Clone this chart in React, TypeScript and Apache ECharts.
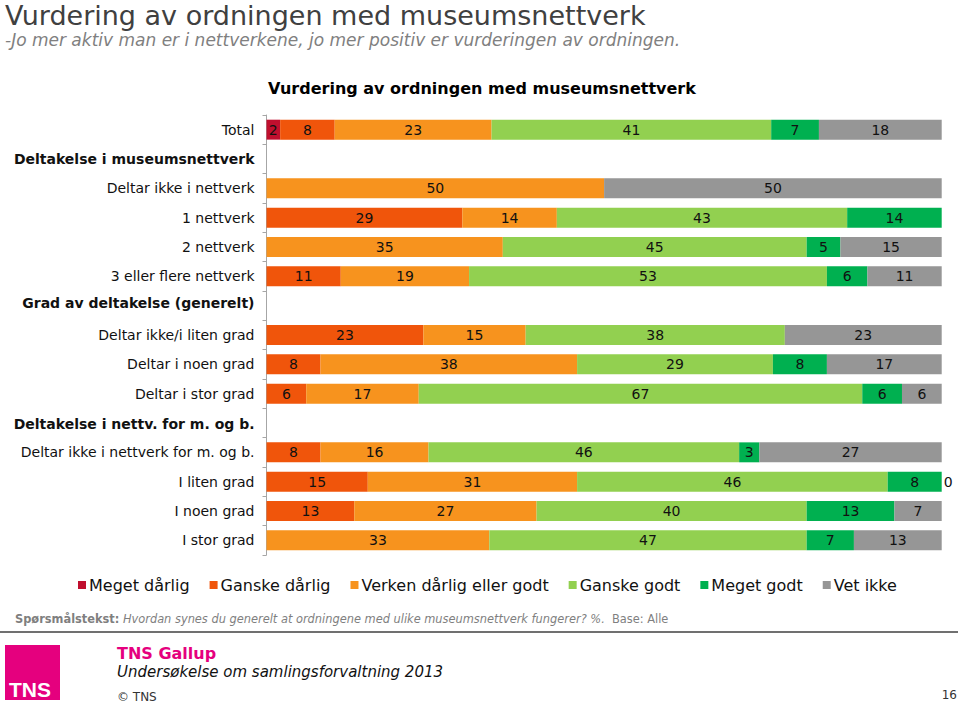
import React, { useEffect, useRef } from "react";
import * as echarts from "echarts";

const categories = [
  "Total",
  "Deltakelse i museumsnettverk",
  "Deltar ikke i nettverk",
  "1 nettverk",
  "2 nettverk",
  "3 eller flere nettverk",
  "Grad av deltakelse (generelt)",
  "Deltar ikke/i liten grad",
  "Deltar i noen grad",
  "Deltar i stor grad",
  "Deltakelse i nettv. for m. og b.",
  "Deltar ikke i nettverk for m. og b.",
  "I liten grad",
  "I noen grad",
  "I stor grad",
];
const headerShift: Record<string, string> = {
  "Deltakelse i museumsnettverk": "h",
  "Grad av deltakelse (generelt)": "hu",
  "Deltakelse i nettv. for m. og b.": "hd",
};

const seriesNames = [
  "Meget dårlig",
  "Ganske dårlig",
  "Verken dårlig eller godt",
  "Ganske godt",
  "Meget godt",
  "Vet ikke",
];
const colors = ["#C00F2E", "#F0550B", "#F7931E", "#92D050", "#00B050", "#969696"];

const megetDarlig = [2, null, null, null, null, null, null, null, null, null, null, null, null, null, null];
const ganskeDarlig = [8, null, null, 29, null, 11, null, 23, 8, 6, null, 8, 15, 13, null];
const verken = [23, null, 50, 14, 35, 19, null, 15, 38, 17, null, 16, 31, 27, 33];
const ganskeGodt = [41, null, null, 43, 45, 53, null, 38, 29, 67, null, 46, 46, 40, 47];
const megetGodt = [7, null, null, 14, 5, 6, null, null, 8, 6, null, 3, 8, 13, 7];
const vetIkke = [18, null, 50, null, 15, 11, null, 23, 17, 6, null, 27, 0, 7, 13];

const rawSeries: (number | null)[][] = [megetDarlig, ganskeDarlig, verken, ganskeGodt, megetGodt, vetIkke];

const FONT = "DejaVu Sans";

export default function App() {
  const ref = useRef<HTMLDivElement>(null);
  useEffect(() => {
    if (!ref.current) return;
    const chart = echarts.init(ref.current, null, { renderer: "svg" });
    const sums = categories.map((_, i) =>
      rawSeries.reduce((s, arr) => s + (arr[i] ?? 0), 0)
    );
    const series = rawSeries.map((arr, si) => ({
      name: seriesNames[si],
      type: "bar",
      stack: "all",
      barWidth: "68%",
      itemStyle: { color: colors[si] },
      label: {
        show: true,
        position: "inside",
        color: "#111",
        fontFamily: FONT,
        fontSize: 14,
        formatter: (p: any) => (p.data.raw === null ? "" : String(p.data.raw)),
      },
      data: arr.map((v, i) => {
        if (v === null) return { value: 0, raw: null, label: { show: false } };
        const share = sums[i] ? (v / sums[i]) * 100 : 0;
        if (v === 0)
          return { value: 0, raw: 0, label: { show: true, position: "right", distance: 2 } };
        return { value: share, raw: v };
      }),
    }));

    chart.setOption({
      animation: false,
      textStyle: { fontFamily: FONT },
      legend: {
        data: seriesNames,
        top: 572,
        left: 73,
        icon: "rect",
        itemWidth: 8,
        itemHeight: 8,
        itemGap: 20,
        textStyle: { fontFamily: FONT, fontSize: 16, color: "#111", padding: [0, 0, 0, -2] },
      },
      grid: { left: 266.5, right: 18.3, top: 115, bottom: 150 },
      xAxis: { type: "value", min: 0, max: 100, show: false },
      yAxis: {
        type: "category",
        data: categories,
        inverse: true,
        axisLine: { show: true, lineStyle: { color: "#A6A6A6" } },
        axisTick: { show: true, length: 4, lineStyle: { color: "#A6A6A6" } },
        axisLabel: {
          margin: 12,
          fontFamily: FONT,
          fontSize: 14,
          color: "#111",
          formatter: (v: string) => (headerShift[v] ? `{${headerShift[v]}|${v}}` : v),
          rich: {
            h: { fontWeight: "bold", fontFamily: FONT, fontSize: 14, color: "#111" },
            hu: { fontWeight: "bold", fontFamily: FONT, fontSize: 14, color: "#111", padding: [0, 0, 6, 0] },
            hd: { fontWeight: "bold", fontFamily: FONT, fontSize: 14, color: "#111", padding: [2, 0, 0, 0] },
          },
        },
      },
      series,
      graphic: [
        {
          type: "text",
          x: 5,
          y: 15.5,
          style: {
            text: "Vurdering av ordningen med museumsnettverk",
            fontFamily: FONT,
            fontSize: 27,
            fill: "#404040",
            verticalAlign: "middle",
          },
        },
        {
          type: "text",
          x: 5,
          y: 39.5,
          style: {
            text: "-Jo mer aktiv man er i nettverkene, jo mer positiv er vurderingen av ordningen.",
            fontFamily: FONT,
            fontSize: 17,
            fontStyle: "italic",
            fill: "#808080",
            verticalAlign: "middle",
          },
        },
        {
          type: "text",
          x: 482,
          y: 88,
          style: {
            text: "Vurdering av ordningen med museumsnettverk",
            fontFamily: FONT,
            fontSize: 16,
            fontWeight: "bold",
            fill: "#000",
            align: "center",
            verticalAlign: "middle",
          },
        },
        {
          type: "text",
          x: 15,
          y: 619,
          style: {
            text: "{b|Spørsmålstekst:} {i|Hvordan synes du generelt at ordningene med ulike museumsnettverk fungerer? %.}  {n|Base: Alle}",
            verticalAlign: "middle",
            rich: {
              b: { fontFamily: FONT, fontSize: 11.4, fontWeight: "bold", fill: "#7F7F7F" },
              i: { fontFamily: FONT, fontSize: 11.4, fontStyle: "italic", fill: "#7F7F7F" },
              n: { fontFamily: FONT, fontSize: 11.4, fill: "#7F7F7F" },
            },
            fontFamily: FONT,
            fontSize: 11.4,
            fill: "#7F7F7F",
          },
        },
        {
          type: "line",
          shape: { x1: 0, y1: 632, x2: 958, y2: 632 },
          style: { stroke: "#404040", lineWidth: 1.5 },
        },
        {
          type: "rect",
          shape: { x: 5, y: 645, width: 55, height: 55 },
          style: { fill: "#E5007E" },
        },
        {
          type: "text",
          x: 9,
          y: 689,
          style: {
            text: "TNS",
            fontFamily: "Liberation Sans Narrow, Liberation Sans",
            fontSize: 21,
            fontWeight: "bold",
            fill: "#fff",
            verticalAlign: "middle",
          },
        },
        {
          type: "text",
          x: 117,
          y: 653,
          style: {
            text: "TNS Gallup",
            fontFamily: FONT,
            fontSize: 16,
            fontWeight: "bold",
            fill: "#E5007E",
            verticalAlign: "middle",
          },
        },
        {
          type: "text",
          x: 117,
          y: 672,
          style: {
            text: "Undersøkelse om samlingsforvaltning 2013",
            fontFamily: FONT,
            fontSize: 15,
            fontStyle: "italic",
            fill: "#111",
            verticalAlign: "middle",
          },
        },
        {
          type: "text",
          x: 117,
          y: 697,
          style: { text: "© TNS", fontFamily: FONT, fontSize: 12, fill: "#333", verticalAlign: "middle" },
        },
        {
          type: "text",
          x: 957,
          y: 695,
          style: { text: "16", fontFamily: FONT, fontSize: 12, fill: "#333", align: "right", verticalAlign: "middle" },
        },
      ],
    });
    return () => chart.dispose();
  }, []);
  return <div ref={ref} style={{ width: 960, height: 705, position: "absolute", left: 0, top: 0 }} />;
}
